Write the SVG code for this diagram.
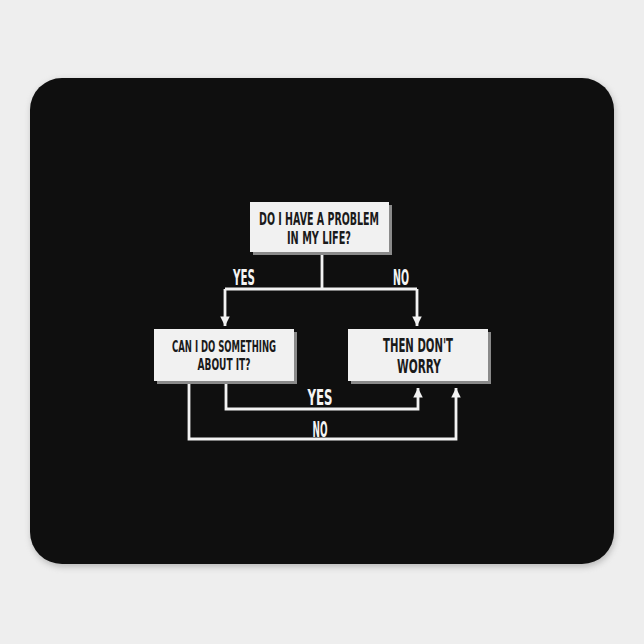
<svg xmlns="http://www.w3.org/2000/svg" width="644" height="644" viewBox="0 0 644 644">
<defs>
<style>
.bx{fill:#f1f1f1}
.sh{fill:#8a8a8a}
.t{font-family:"Liberation Sans Narrow","DejaVu Sans Condensed","Liberation Sans",sans-serif;font-weight:bold;text-anchor:middle}
.bt{fill:#1a1a1a}
.lt{fill:#f4f4f4}
.ln{fill:none;stroke:#f2f2f2;stroke-width:2.8}
</style>
<marker id="ah" viewBox="0 0 10 10" refX="10" refY="5" markerWidth="3.4" markerHeight="3.4" orient="auto" markerUnits="strokeWidth">
<path d="M0,0 L10,5 L0,10 Z" fill="#f2f2f2"/>
</marker>
<filter id="pshadow" x="-10%" y="-10%" width="120%" height="120%">
<feGaussianBlur stdDeviation="3"/>
</filter>
</defs>
<rect width="644" height="644" fill="#eeeeee"/>
<rect x="31" y="80" width="584" height="487" rx="32" fill="#888" opacity="0.5" filter="url(#pshadow)"/>
<rect x="30" y="78" width="584" height="486" rx="32" fill="#0f0f0f"/>

<g id="connectors">
<path class="ln" d="M322,252 V289 M225,289 H417"/>
<path class="ln" d="M225,289 V326" marker-end="url(#ah)"/>
<path class="ln" d="M417,289 V326" marker-end="url(#ah)"/>
<path class="ln" d="M226,381 V409 H418 V388" marker-end="url(#ah)"/>
<path class="ln" d="M189,381 V439 H456 V388" marker-end="url(#ah)"/>
<text class="t lt" x="244" y="285" font-size="21" textLength="22" lengthAdjust="spacingAndGlyphs">YES</text>
<text class="t lt" x="401" y="285" font-size="21" textLength="16" lengthAdjust="spacingAndGlyphs">NO</text>
<text class="t lt" x="320" y="405" font-size="21" textLength="25" lengthAdjust="spacingAndGlyphs">YES</text>
<text class="t lt" x="320" y="437" font-size="21" textLength="15" lengthAdjust="spacingAndGlyphs">NO</text>
</g>

<g id="q1">
<rect class="sh" x="253" y="205" width="139" height="50"/>
<rect class="bx" x="250" y="202" width="139" height="50"/>
<text class="t bt" x="319" y="225" font-size="17" textLength="120" lengthAdjust="spacingAndGlyphs">DO I HAVE A PROBLEM</text>
<text class="t bt" x="319" y="244" font-size="17" textLength="64" lengthAdjust="spacingAndGlyphs">IN MY LIFE?</text>
</g>

<g id="q2">
<rect class="sh" x="157" y="332" width="140" height="52"/>
<rect class="bx" x="154" y="329" width="140" height="52"/>
<text class="t bt" x="224" y="352" font-size="16" textLength="104" lengthAdjust="spacingAndGlyphs">CAN I DO SOMETHING</text>
<text class="t bt" x="224" y="370" font-size="16" textLength="53" lengthAdjust="spacingAndGlyphs">ABOUT IT?</text>
</g>

<g id="result">
<rect class="sh" x="351" y="332" width="140" height="52"/>
<rect class="bx" x="348" y="329" width="140" height="52"/>
<text class="t bt" x="418" y="352" font-size="19" textLength="70" lengthAdjust="spacingAndGlyphs">THEN DON'T</text>
<text class="t bt" x="419" y="373" font-size="19" textLength="44" lengthAdjust="spacingAndGlyphs">WORRY</text>
</g>
</svg>
